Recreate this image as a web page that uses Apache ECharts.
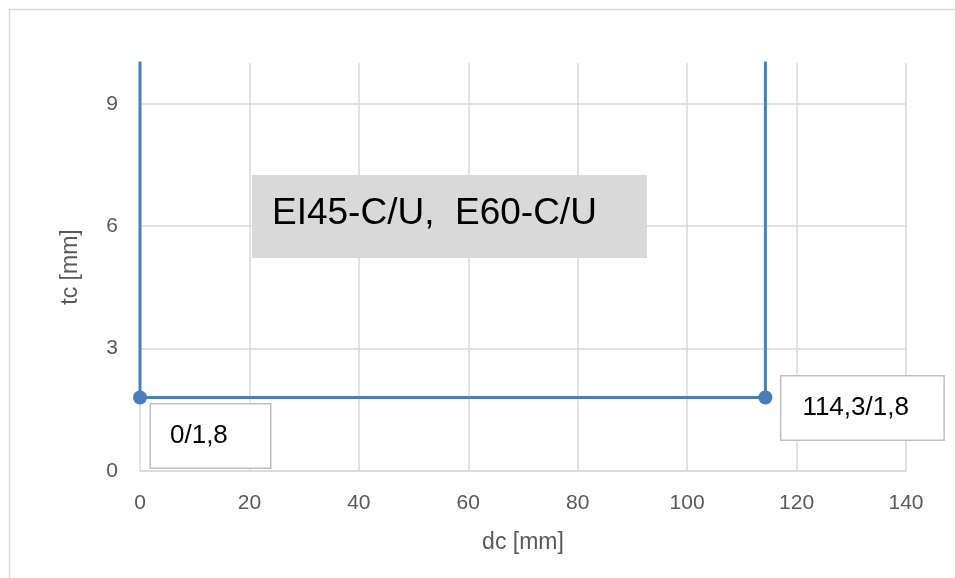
<!DOCTYPE html>
<html>
<head>
<meta charset="utf-8">
<script src="https://cdn.jsdelivr.net/npm/echarts@6/dist/echarts.min.js"></script>
<style>html,body{margin:0;padding:0;background:#fff}#c{width:955px;height:578px}</style>
</head>
<body>
<div id="c"></div>
<script>
// Data
var dcValues = [0, 0, 114.3, 114.3];
var tcValues = [12, 1.8, 1.8, 12];
var pointLabels = ['', '0/1,8', '114,3/1,8', ''];
var xTicks = [0, 20, 40, 60, 80, 100, 120, 140];
var yTicks = [0, 3, 6, 9];
var titleText = 'EI45-C/U,  E60-C/U';
var xName = 'dc [mm]';
var yName = 'tc [mm]';

var FONT = 'Liberation Sans';
var LINE = '#4a7ebb';
var GRID = '#d9d9d9';

var labelStyles = [
  null,
  {offset: [4, 38.5], padding: [18, 0, 18, 19], width: 100},
  {offset: [9, 10.5], padding: [18, 0, 18, 21], width: 141},
  null
];

var data = dcValues.map(function (x, i) {
  var item = {value: [x, tcValues[i]]};
  if (pointLabels[i]) {
    var s = labelStyles[i];
    item.symbol = 'circle';
    item.symbolSize = 14;
    item.label = {
      show: true,
      position: 'right',
      distance: 0,
      offset: s.offset,
      formatter: pointLabels[i],
      fontFamily: FONT,
      fontSize: 26,
      lineHeight: 27,
      color: '#000',
      backgroundColor: '#fff',
      borderColor: '#bfbfbf',
      borderWidth: 1.5,
      padding: s.padding,
      width: s.width,
      align: 'left'
    };
  } else {
    item.symbol = 'none';
    item.symbolSize = 0;
  }
  return item;
});

var chart = echarts.init(document.getElementById('c'), null, {renderer: 'canvas'});
chart.setOption({
  animation: false,
  backgroundColor: '#fff',
  grid: {left: 140, right: 49, top: 63, bottom: 107},
  xAxis: {
    type: 'value',
    min: xTicks[0],
    max: xTicks[xTicks.length - 1],
    interval: xTicks[1] - xTicks[0],
    name: xName,
    nameLocation: 'middle',
    nameGap: 60,
    nameTextStyle: {fontFamily: FONT, fontSize: 23, color: '#595959'},
    axisLine: {show: true, lineStyle: {color: GRID, width: 1.5}},
    axisTick: {show: false},
    axisLabel: {fontFamily: FONT, fontSize: 21, color: '#595959', margin: 22},
    splitLine: {show: true, lineStyle: {color: GRID, width: 1.5}}
  },
  yAxis: {
    type: 'value',
    min: 0,
    max: 10,
    interval: yTicks[1] - yTicks[0],
    name: yName,
    nameLocation: 'middle',
    nameGap: 58,
    nameRotate: 90,
    nameTextStyle: {fontFamily: FONT, fontSize: 23, color: '#595959'},
    axisLine: {show: false},
    axisTick: {show: false},
    axisLabel: {
      fontFamily: FONT, fontSize: 21, color: '#595959', margin: 22,
      showMaxLabel: false,
      formatter: function (v) { return yTicks.indexOf(v) >= 0 ? String(v) : ''; }
    },
    splitLine: {show: true, showMaxLine: false, lineStyle: {color: GRID, width: 1.5}}
  },
  series: [{
    type: 'line',
    data: data,
    clip: true,
    showSymbol: true,
    lineStyle: {color: LINE, width: 3},
    itemStyle: {color: LINE},
    z: 5
  }],
  graphic: [
    {
      type: 'rect',
      left: 7, top: 7,
      shape: {x: 0, y: 0, width: 960, height: 585},
      style: {fill: 'none', stroke: GRID, lineWidth: 1.5},
      silent: true
    },
    {
      type: 'rect',
      left: 252, top: 175,
      shape: {x: 0, y: 0, width: 395, height: 83},
      style: {fill: '#d9d9d9'},
      z: 10
    },
    {
      type: 'text',
      left: 272, top: 195,
      style: {text: titleText, fontFamily: FONT, fontSize: 37, fill: '#000'},
      z: 11
    }
  ]
});
</script>
</body>
</html>
